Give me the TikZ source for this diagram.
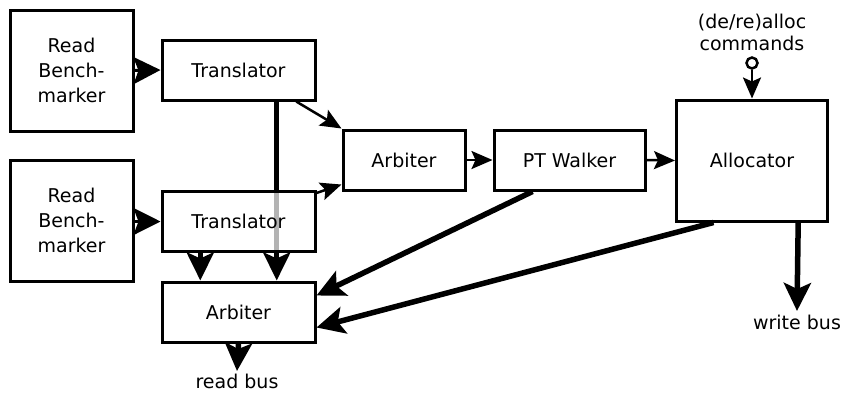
\documentclass[tikz,border=0pt]{standalone}
\usepackage{fontspec}
\setmainfont{DejaVu Sans}
\usetikzlibrary{arrows.meta,backgrounds,calc}
\begin{document}
\begin{tikzpicture}[x=1pt,y=-1pt,
  box/.style={draw,line width=3pt,inner sep=0pt,align=center,font=\fontsize{19}{25}\selectfont},
  lbl/.style={inner sep=0pt,align=center,font=\fontsize{19}{22}\selectfont},
  thick arrow/.style={line width=5.5pt,-{Stealth[length=28pt,width=27pt,inset=6pt]}},
  thin arrow/.style={line width=2.5pt,-{Stealth[length=21pt,width=18pt,inset=4pt]}},
  short arrow/.style={line width=3pt,-{Stealth[length=27pt,width=27pt,inset=5pt]}}]
\useasboundingbox (0,0) rectangle (843,392);
% boxes
\node[box,minimum width=123pt,minimum height=121pt] (RB1) at (71.5,70.5) {Read\\Bench-\\marker};
\node[box,minimum width=123pt,minimum height=121pt] (RB2) at (71.5,220.5) {Read\\Bench-\\marker};
\node[box,minimum width=153pt,minimum height=60pt] (T1) at (238.5,70) {Translator};
\node[box,minimum width=153pt,minimum height=60pt,fill=white,fill opacity=0.7,text opacity=1,draw opacity=1] (T2) at (238.5,221.5) {Translator};
\node[box,minimum width=153pt,minimum height=60pt] (A2) at (238.5,312) {Arbiter};
\node[box,minimum width=122pt,minimum height=60pt] (A1) at (404,160) {Arbiter};
\node[box,minimum width=151pt,minimum height=60pt] (PT) at (569.5,160) {PT Walker};
\node[box,minimum width=151pt,minimum height=121pt] (AL) at (752,160.5) {Allocator};
% labels
\node[lbl] (cmd) at (752,32) {(de/re)alloc\\commands};
\node[draw,circle,line width=2.5pt,minimum size=11pt,inner sep=0pt] (circ) at (752,63) {};
\coordinate (wb) at (797,311);
\node[lbl,anchor=north] (wbl) at (797,315) {write bus};
\coordinate (rb) at (237,371);
\node[lbl,anchor=base] (rbl) at (237,388) {read bus};
% connectors
\begin{scope}[on background layer]
\draw[thick arrow] ($(T1.south west)!0.745!(T1.south east)$) -- ($(A2.north west)!0.745!(A2.north east)$);
\end{scope}
\draw[short arrow] (RB1.east) -- (T1.west);
\draw[short arrow] (RB2.east |- T2.west) -- (T2.west);
\draw[thin arrow] ($(T1.south west)!0.87!(T1.south east)$) -- (A1.north west);
\draw[thin arrow] ($(T2.north east)+(0,3)$) -- ($(A1.south west)+(0,-7)$);
\draw[thick arrow] ($(T2.south west)!0.255!(T2.south east)$) -- ($(A2.north west)!0.255!(A2.north east)$);
\draw[thin arrow] (A1.east) -- (PT.west);
\draw[thin arrow] (PT.east) -- (AL.west);
\draw[thin arrow] (circ.south) -- (AL.north);
\draw[thick arrow] ($(PT.south west)!0.26!(PT.south east)$) -- ($(A2.north east)+(0,15)$);
\draw[thick arrow] ($(AL.south west)!0.25!(AL.south east)$) -- ($(A2.south east)+(0,-16)$);
\draw[thick arrow] ($(AL.south west)!0.8!(AL.south east)$) -- (wb);
\draw[thick arrow] (A2.south) -- (rb);
\end{tikzpicture}
\end{document}
